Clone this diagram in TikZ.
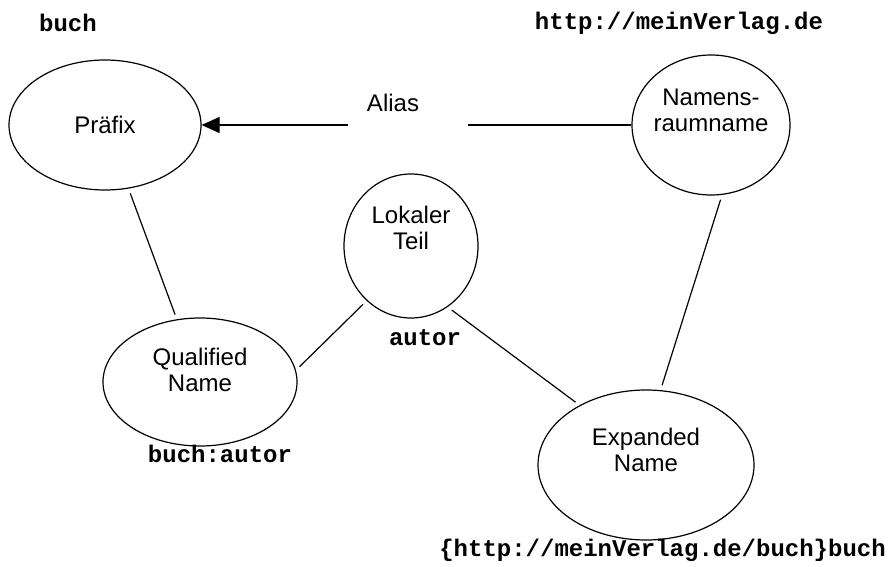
\documentclass[tikz,border=0pt]{standalone}
\usepackage{fontspec}
\setmainfont{Liberation Sans}
\setmonofont{Liberation Mono}
\usetikzlibrary{arrows.meta,shapes.geometric}
\tikzset{
  term/.style={draw, ellipse, line width=1.2pt, inner sep=0pt},
  txt/.style={font=\fontsize{24}{26}\selectfont, align=center, inner sep=0pt},
  tag/.style={font=\fontsize{24}{26}\selectfont\ttfamily\bfseries, inner sep=0pt},
  link/.style={line width=1.2pt, shorten <=5pt, shorten >=5pt},
  alias/.style={line width=1.2pt, -{Triangle[length=18pt,width=16pt]}},
}

\begin{document}
\begin{tikzpicture}[x=1pt,y=-1pt]
  \useasboundingbox (0,0) rectangle (888,567);
  % the five terms
  \node[term, minimum width=192pt, minimum height=130pt,
    label={[txt]center:Präfix}] (praefix) at (105,125) {};
  \node[term, minimum width=158pt, minimum height=140pt,
    label={[txt, yshift=15pt]center:{Namens-\\raumname}}] (nsname) at (711,125) {};
  \node[term, minimum width=134pt, minimum height=144pt,
    label={[txt, yshift=18pt]center:{Lokaler\\Teil}}] (lokal) at (411,246) {};
  \node[term, minimum width=194pt, minimum height=128pt,
    label={[txt, yshift=12pt]center:{Qualified\\Name}}] (qname) at (200,382) {};
  \node[term, minimum width=216pt, minimum height=150pt,
    label={[txt, yshift=15pt]center:{Expanded\\Name}}] (ename) at (646,465) {};
  % examples
  \node[tag] (buchtag) at (68,23) {buch};
  \node[tag] (urltag) at (679,23) {http://meinVerlag.de};
  \node[tag] (autortag) at (425,338) {autor};
  \node[tag] (qnametag) at (220,454) {buch:autor};
  \node[tag, anchor=east] (enametag) at (886,550) {\{http://meinVerlag.de/buch\}buch};
  % connectors
  \draw[link] (praefix) -- (qname);
  \draw[link] (nsname.-81) -- (ename.79);
  \draw[link] (qname.7) -- (lokal.231);
  \draw[link] (lokal.-59) -- (ename.138);
  \draw[alias] (nsname.west) -- node[pos=0.52, fill=white, minimum width=120pt,
    minimum height=6pt, inner sep=0pt] (aliasgap) {} (praefix.east);
  \node[txt] (aliaslbl) at (393,103) {Alias};
\end{tikzpicture}
\end{document}
